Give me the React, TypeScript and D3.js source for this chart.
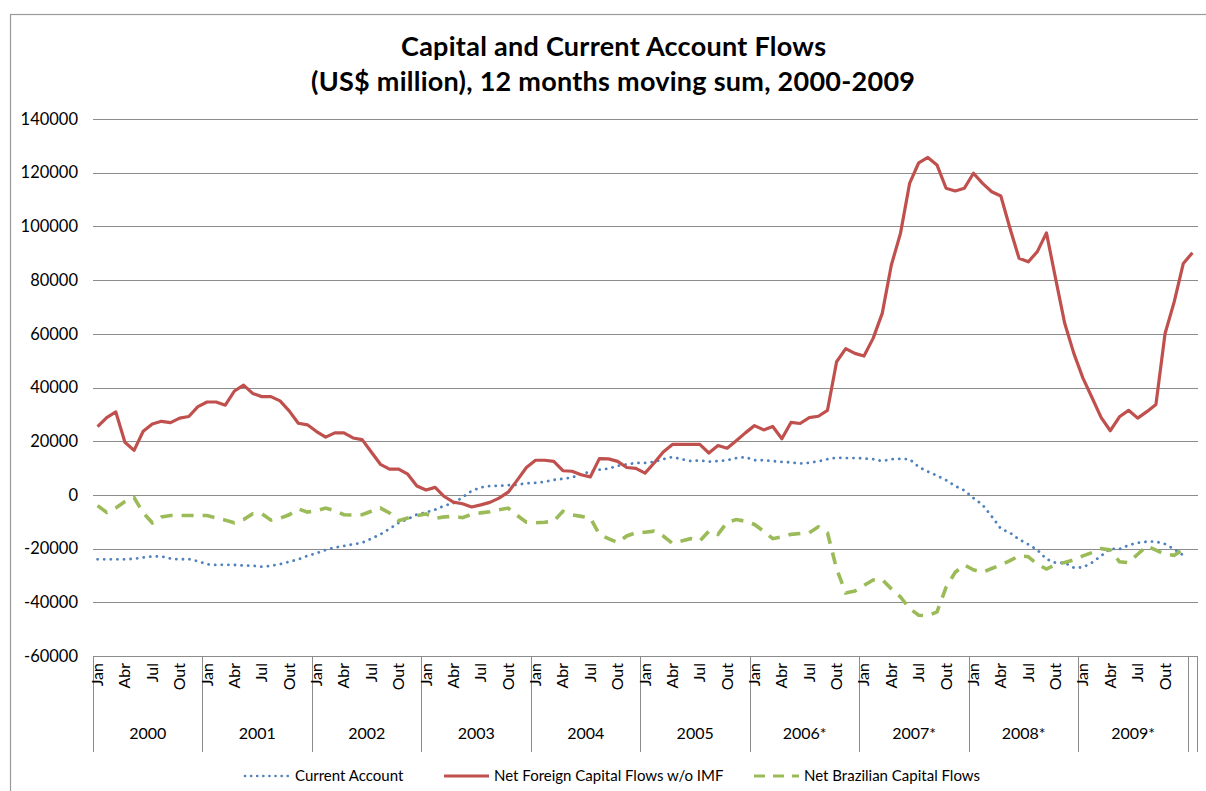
import React from "react";
import * as d3 from "d3";

const yearLabels = ["2000", "2001", "2002", "2003", "2004", "2005", "2006*", "2007*", "2008*", "2009*", ""];
const monthNames = ["Jan", "", "", "Abr", "", "", "Jul", "", "", "Out", "", ""];
const yTicks = [-60000, -40000, -20000, 0, 20000, 40000, 60000, 80000, 100000, 120000, 140000];

// values in US$ thousand millions (k), Jan 2000 .. Jan 2010
const netForeign = [
  25.4, 28.8, 30.9, 19.6, 16.6, 23.7, 26.4, 27.4, 26.9, 28.6, 29.2, 32.9,
  34.6, 34.6, 33.4, 38.7, 40.9, 37.8, 36.6, 36.6, 35.0, 31.3, 26.7, 26.1,
  23.6, 21.5, 23.1, 23.1, 21.2, 20.6, 16.0, 11.4, 9.6, 9.6, 7.7, 3.3,
  1.8, 2.8, -0.6, -2.7, -3.3, -4.5, -3.7, -2.8, -1.2, 1.0, 5.5, 10.2,
  12.9, 12.9, 12.5, 9.0, 8.8, 7.5, 6.7, 13.5, 13.4, 12.5, 10.2, 9.9,
  8.1, 11.9, 16.0, 18.8, 18.8, 18.8, 18.8, 15.6, 18.4, 17.4, 20.2, 23.1,
  25.8, 24.2, 25.5, 20.9, 27.0, 26.6, 28.8, 29.3, 31.5, 49.6, 54.5, 52.7,
  51.7, 58.3, 67.6, 85.6, 97.4, 116.0, 123.7, 125.7, 122.9, 114.2, 113.2, 114.2,
  119.8, 116.0, 112.9, 111.3, 99.3, 88.1, 86.8, 90.6, 97.6, 80.6, 63.9, 52.7,
  43.5, 36.2, 28.8, 23.9, 29.1, 31.5, 28.6, 31.0, 33.7, 60.1, 71.9, 86.2,
  90.2,
];

const currentAccount = [
  -24.0, -24.0, -24.0, -24.0, -23.8, -23.3, -22.9, -22.9, -23.7, -24.0, -23.9, -24.7,
  -25.8, -26.1, -26.0, -26.1, -26.3, -26.4, -26.7, -26.4, -25.8, -24.9, -24.0, -22.7,
  -21.7, -20.5, -19.6, -19.0, -18.4, -17.8, -16.3, -14.7, -12.6, -10.4, -9.0, -7.3,
  -6.5, -5.5, -4.0, -3.1, -0.9, 1.5, 2.8, 3.3, 3.4, 3.6, 3.8, 4.3,
  4.5, 4.9, 5.6, 6.0, 6.5, 7.7, 8.7, 9.4, 9.8, 10.8, 11.4, 11.9,
  11.9, 12.3, 13.3, 14.1, 13.3, 12.6, 12.8, 12.4, 12.6, 12.9, 13.7, 14.1,
  12.9, 12.9, 12.6, 12.3, 12.1, 11.7, 12.0, 12.5, 13.3, 13.9, 13.7, 13.7,
  13.6, 13.3, 12.6, 13.3, 13.4, 13.3, 10.4, 8.7, 7.2, 5.5, 3.3, 1.7,
  -1.2, -3.7, -8.0, -12.6, -14.1, -16.6, -18.4, -20.5, -23.9, -25.3, -25.3, -27.1,
  -27.0, -25.2, -22.7, -20.0, -20.2, -18.7, -17.8, -17.4, -17.4, -18.3, -20.2, -22.5,
  null,
];

const netBrazilian = [
  -4.0, -6.5, -4.9, -2.5, -1.0, -6.7, -10.4, -8.2, -7.7, -7.7, -7.7, -7.7,
  -7.7, -8.6, -9.4, -10.4, -9.2, -7.0, -7.0, -9.4, -8.7, -7.4, -5.2, -6.4,
  -5.9, -4.9, -5.9, -7.4, -7.5, -7.4, -6.1, -4.9, -6.7, -9.6, -8.6, -7.7,
  -7.1, -8.7, -8.2, -8.0, -8.5, -7.2, -6.7, -6.3, -5.5, -4.9, -7.7, -10.2,
  -10.4, -10.2, -9.8, -6.1, -7.4, -8.0, -8.6, -14.7, -16.3, -17.8, -15.3, -14.1,
  -13.9, -13.5, -15.3, -18.0, -17.2, -16.3, -17.2, -13.5, -14.7, -10.2, -9.2, -9.8,
  -11.0, -13.5, -16.3, -15.6, -14.7, -14.4, -14.1, -11.9, -14.1, -27.6, -36.5, -35.8,
  -33.7, -31.7, -31.5, -35.0, -38.0, -42.3, -44.8, -45.0, -43.6, -34.4, -28.8, -26.1,
  -27.9, -28.8, -27.4, -26.1, -24.5, -22.7, -23.0, -25.8, -27.6, -25.9, -25.2, -24.2,
  -22.7, -21.5, -20.0, -20.5, -24.9, -25.2, -22.1, -19.0, -20.6, -22.1, -22.5, -20.2,
  null,
];

const W = 1206;
const H = 791;
const FONT = "Lato, 'Open Sans', sans-serif";
const N = netForeign.length;

export default function App() {
  const left = 93;
  const right = 1197;
  const top = 119;
  const bottom = 656;

  const x = d3.scaleBand<number>().domain(d3.range(N)).range([left, right]).padding(0);
  const y = d3.scaleLinear().domain([-60000, 140000]).range([bottom, top]);
  const cx = (i: number) => (x(i) as number) + x.bandwidth() / 2;

  const mkLine = (arr: (number | null)[]) =>
    d3
      .line<number | null>()
      .defined((d) => d !== null)
      .x((_, i) => cx(i))
      .y((d) => y((d as number) * 1000))(arr) || "";

  const yearBounds = d3.range(0, N, 12).map((i) => x(i) as number);
  yearBounds.push(right);

  const legendItems = [
    { label: "Current Account", color: "#4F81BD", x0: 245, dash: "0.1 6", w: 2.6, cap: "round" as const },
    { label: "Net Foreign Capital Flows w/o IMF", color: "#C0504D", x0: 444, dash: "", w: 3, cap: "butt" as const },
    { label: "Net Brazilian Capital Flows", color: "#9BBB59", x0: 754, dash: "11 8", w: 3.2, cap: "butt" as const },
  ];

  return (
    <svg width={W} height={H} style={{ position: "absolute", left: 0, top: 0 }} fontFamily={FONT}>
      <rect x={0} y={0} width={W} height={H} fill="#fff" />
      <rect x={10.5} y={14.5} width={W + 20} height={H + 20} fill="none" stroke="#9a9a9a" strokeWidth={1.2} />

      <text x={613.5} y={56} textAnchor="middle" fontSize={27} fontWeight={700} fill="#000" textLength={425} lengthAdjust="spacing">
        Capital and Current Account Flows
      </text>
      <text x={613} y={91} textAnchor="middle" fontSize={27} fontWeight={700} fill="#000" textLength={604} lengthAdjust="spacing">
        (US$ million), 12 months moving sum, 2000-2009
      </text>

      {yTicks.map((t) => (
        <g key={t}>
          <line x1={left} x2={right + 1} y1={Math.round(y(t)) + 0.5} y2={Math.round(y(t)) + 0.5} stroke="#8c8c8c" strokeWidth={1} />
          <text x={78} y={y(t)} dy="0.35em" textAnchor="end" fontSize={16.5} fill="#000">
            {t}
          </text>
        </g>
      ))}

      {yearBounds.map((b, k) => (
        <line key={"yb" + k} x1={Math.round(b) + 0.5} x2={Math.round(b) + 0.5} y1={bottom} y2={752} stroke="#8c8c8c" strokeWidth={1} />
      ))}
      <line x1={Math.round(x(120) as number) + 0.5} x2={Math.round(x(120) as number) + 0.5} y1={bottom} y2={752} stroke="#8c8c8c" strokeWidth={1} />

      {d3.range(120).map((i) => {
        const lab = monthNames[i % 12];
        if (!lab) return null;
        return (
          <text key={"m" + i} transform={`translate(${cx(i) + 5.5},663) rotate(-90)`} textAnchor="end" fontSize={16} fill="#000">
            {lab}
          </text>
        );
      })}

      {yearLabels.map((lab, k) => {
        if (!lab) return null;
        const a = x(k * 12) as number;
        const b = k * 12 + 12 < N ? (x(k * 12 + 12) as number) : right;
        return (
          <text key={"y" + k} x={(a + b) / 2} y={739} textAnchor="middle" fontSize={16} fill="#000">
            {lab}
          </text>
        );
      })}

      <path d={mkLine(currentAccount)} fill="none" stroke="#4F81BD" strokeWidth={2.8} strokeDasharray="0.1 6.5" strokeLinecap="round" />
      <path d={mkLine(netForeign)} fill="none" stroke="#C0504D" strokeWidth={3.2} strokeLinejoin="round" />
      <path d={mkLine(netBrazilian)} fill="none" stroke="#9BBB59" strokeWidth={3.6} strokeDasharray="12 9" />

      {legendItems.map((it) => (
        <g key={it.label}>
          <line x1={it.x0} x2={it.x0 + 45} y1={776} y2={776} stroke={it.color} strokeWidth={it.w} strokeDasharray={it.dash || undefined} strokeLinecap={it.cap} />
          <text x={it.x0 + 50} y={776} dy="0.35em" fontSize={15} fill="#000">
            {it.label}
          </text>
        </g>
      ))}
    </svg>
  );
}
